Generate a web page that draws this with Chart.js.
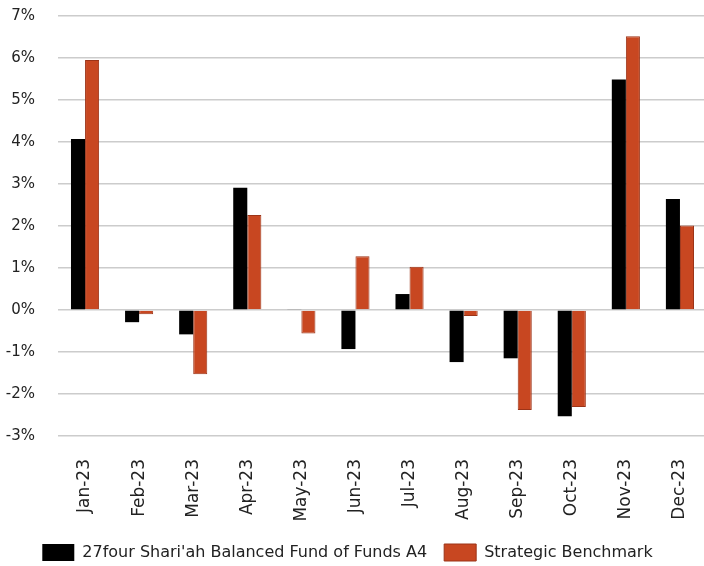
<!DOCTYPE html>
<html>
<head>
<meta charset="utf-8">
<script src="https://cdn.jsdelivr.net/npm/chart.js@4"></script>
<style>
  html, body { margin: 0; padding: 0; background: #fff; overflow: hidden; }
  #wrap { width: 707px; height: 566px; }
</style>
</head>
<body>
<div id="wrap"><canvas id="returnsChart"></canvas></div>
<script>
const months = ["Jan-23", "Feb-23", "Mar-23", "Apr-23", "May-23", "Jun-23",
                "Jul-23", "Aug-23", "Sep-23", "Oct-23", "Nov-23", "Dec-23"];
const fundReturns = [4.07, -0.29, -0.58, 2.91, 0.02, -0.93, 0.38, -1.24, -1.15, -2.53, 5.49, 2.64];
const benchmarkReturns = [5.95, -0.10, -1.53, 2.26, -0.56, 1.28, 1.03, -0.14, -2.38, -2.31, 6.52, 2.01];
const fundName = "27four Shari'ah Balanced Fund of Funds A4";
const benchName = "Strategic Benchmark";

Chart.defaults.font.family = "'DejaVu Sans', sans-serif";
Chart.defaults.color = "#222";

// legend sits a little left of centre in the original
const legendShift = {
    id: 'legendShift',
    afterLayout(chart) {
        chart.legend.left -= 9;
        chart.legend.right -= 9;
    }
};

new Chart(document.getElementById("returnsChart"), {
    type: 'bar',
    data: {
        labels: months,
        datasets: [
            {
                label: fundName,
                data: fundReturns,
                backgroundColor: "#000000",
                borderColor: "#000000",
                borderWidth: 0,
                categoryPercentage: 0.52,
                barPercentage: 1
            },
            {
                label: benchName,
                data: benchmarkReturns,
                backgroundColor: "#c84721",
                borderColor: "#9c3418",
                borderWidth: 1,
                categoryPercentage: 0.52,
                barPercentage: 1
            }
        ]
    },
    plugins: [legendShift],
    options: {
        responsive: true,
        maintainAspectRatio: false,
        animation: false,
        layout: { padding: { top: 16, right: 0, left: 6, bottom: -5 } },
        plugins: {
            legend: {
                display: true,
                position: 'bottom',
                labels: {
                    boxWidth: 32,
                    boxHeight: 17,
                    padding: 17,
                    font: { size: 16 },
                    color: "#222"
                }
            },
            tooltip: { enabled: false }
        },
        scales: {
            x: {
                grid: { display: false },
                border: { display: false },
                ticks: {
                    minRotation: 90,
                    maxRotation: 90,
                    padding: 15,
                    font: { size: 17 }
                },
                afterFit(scale) {
                    scale.height = 91;
                    scale.paddingLeft = 0;
                    scale.paddingRight = 0;
                }
            },
            y: {
                min: -3,
                max: 7,
                grid: { color: "#cccccc", lineWidth: 1.5, drawTicks: false },
                border: { display: false },
                ticks: {
                    stepSize: 1,
                    padding: 23,
                    font: { size: 15 },
                    callback: function (v) { return v + "%"; }
                },
                afterFit(scale) {
                    scale.width = 52;
                    scale.paddingTop = 0;
                    scale.paddingBottom = 0;
                }
            }
        }
    }
});
</script>
</body>
</html>
